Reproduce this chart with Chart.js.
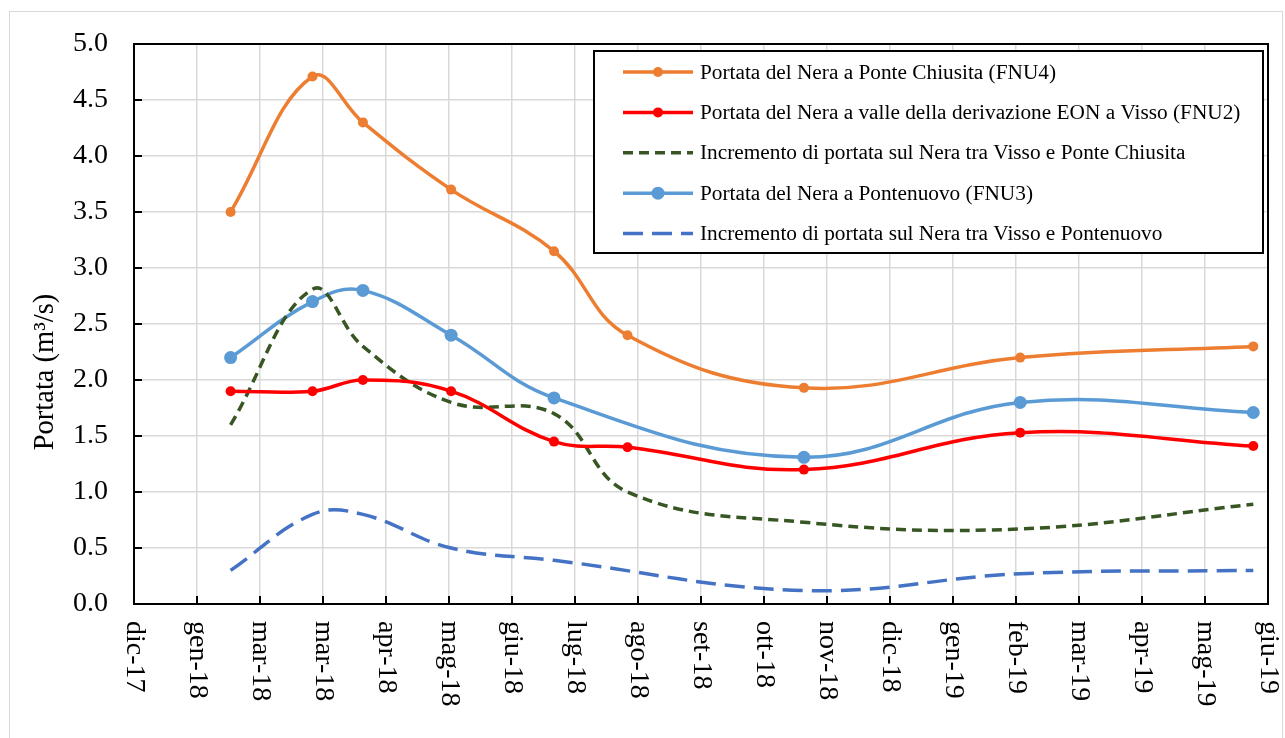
<!DOCTYPE html>
<html lang="it">
<head>
<meta charset="utf-8">
<title>Portata del Nera</title>
<script src="https://cdn.jsdelivr.net/npm/chart.js@4.4.1/dist/chart.umd.min.js"></script>
<style>
  html, body { margin: 0; padding: 0; background: #fff; }
  #contenitore { position: relative; width: 1285px; height: 738px; }
</style>
</head>
<body>
<div id="contenitore">
  <canvas id="grafico-portate" width="1285" height="738"></canvas>
</div>
<script>
// Date delle misure (FNU4, FNU2 e incremento Visso - Ponte Chiusita)
const dateMisure = ['2018-02-15', '2018-03-26', '2018-04-19', '2018-05-31', '2018-07-19',
                    '2018-08-23', '2018-11-15', '2019-02-26', '2019-06-17'];
// Date delle misure a Pontenuovo (FNU3), senza la campagna di agosto
const datePontenuovo = ['2018-02-15', '2018-03-26', '2018-04-19', '2018-05-31', '2018-07-19',
                        '2018-11-15', '2019-02-26', '2019-06-17'];

// Portate in m3/s
const portataPonteChiusita = [3.50, 4.71, 4.30, 3.70, 3.15, 2.40, 1.93, 2.20, 2.30];
const portataValleEON = [1.90, 1.90, 2.00, 1.90, 1.45, 1.40, 1.20, 1.53, 1.41];
const incrementoChiusita = [1.60, 2.81, 2.30, 1.80, 1.70, 1.00, 0.73, 0.67, 0.89];
const portataPontenuovo = [2.20, 2.70, 2.80, 2.40, 1.84, 1.31, 1.80, 1.71];
const incrementoPontenuovo = [0.30, 0.80, 0.80, 0.50, 0.39, 0.12, 0.27, 0.30];

// Etichette dell'asse x (una ogni 30 giorni, come in Excel)
const etichetteAsseX = ['dic-17', 'gen-18', 'mar-18', 'mar-18', 'apr-18', 'mag-18', 'giu-18',
                        'lug-18', 'ago-18', 'set-18', 'ott-18', 'nov-18', 'dic-18', 'gen-19',
                        'feb-19', 'mar-19', 'apr-19', 'mag-19', 'giu-19'];
const inizioAsseX = '2017-12-31';
const passoGiorni = 30;

// Converte una data in numero di giorni
const giorno = (d) => Date.parse(d + 'T00:00:00Z') / 86400000;
const punti = (date, valori) => date.map((d, i) => ({ x: giorno(d), y: valori[i] }));

const primoGiorno = giorno(inizioAsseX);
const ultimoGiorno = primoGiorno + passoGiorni * (etichetteAsseX.length - 1);
const carattere = '"Liberation Serif", "Times New Roman", serif';

// Bordo grigio esterno
const cornice = {
  id: 'cornice',
  beforeDraw(chart) {
    const { ctx } = chart;
    ctx.save();
    ctx.strokeStyle = '#d9d9d9';
    ctx.lineWidth = 1;
    ctx.strokeRect(9.5, 11.5, 1273, 740);
    ctx.restore();
  }
};

// Riquadro nero dell'area del grafico, tacche interne, etichette e legenda
const decorazioni = {
  id: 'decorazioni',
  afterDatasetsDraw(chart) {
    const { ctx, chartArea: a, scales: { x, y } } = chart;
    ctx.save();
    ctx.strokeStyle = '#000';
    ctx.lineWidth = 2;
    ctx.strokeRect(a.left, a.top, a.right - a.left, a.bottom - a.top);
    ctx.beginPath();
    y.ticks.forEach(t => {
      const py = y.getPixelForValue(t.value);
      ctx.moveTo(a.left, py);
      ctx.lineTo(a.left + 8, py);
    });
    x.ticks.forEach(t => {
      const px = x.getPixelForValue(t.value);
      ctx.moveTo(px, a.bottom);
      ctx.lineTo(px, a.bottom - 8);
    });
    ctx.stroke();
    ctx.restore();
  },
  afterDraw(chart) {
    const { ctx, chartArea: a, scales: { x } } = chart;
    ctx.save();

    // Etichette dell'asse x ruotate di 90 gradi in senso orario
    ctx.fillStyle = '#000';
    ctx.font = '28px ' + carattere;
    ctx.textAlign = 'left';
    ctx.textBaseline = 'middle';
    x.ticks.forEach((t, i) => {
      ctx.save();
      ctx.translate(x.getPixelForValue(t.value), a.bottom + 17);
      ctx.rotate(Math.PI / 2);
      ctx.fillText(etichetteAsseX[i], 0, 0);
      ctx.restore();
    });

    // Titolo dell'asse y
    ctx.save();
    ctx.translate(46, 372);
    ctx.rotate(-Math.PI / 2);
    ctx.textAlign = 'center';
    ctx.font = '28.5px ' + carattere;
    ctx.fillText('Portata (m³/s)', 0, 0);
    ctx.restore();

    // Legenda con bordo
    const x0 = a.right - 674, y0 = a.top + 7, w = 669, h = 202;
    ctx.fillStyle = '#fff';
    ctx.fillRect(x0, y0, w, h);
    ctx.strokeStyle = '#000';
    ctx.lineWidth = 2;
    ctx.strokeRect(x0, y0, w, h);
    ctx.font = '21.3px ' + carattere;
    ctx.textAlign = 'left';
    chart.data.datasets.forEach((ds, i) => {
      const yy = y0 + 21 + i * 40.4;
      ctx.strokeStyle = ds.borderColor;
      ctx.lineWidth = ds.borderWidth;
      ctx.setLineDash(ds.borderDash || []);
      ctx.beginPath();
      ctx.moveTo(x0 + 29, yy);
      ctx.lineTo(x0 + 99, yy);
      ctx.stroke();
      ctx.setLineDash([]);
      if (ds.pointRadius > 0) {
        ctx.fillStyle = ds.borderColor;
        ctx.beginPath();
        ctx.arc(x0 + 64, yy, ds.pointRadius, 0, Math.PI * 2);
        ctx.fill();
      }
      ctx.fillStyle = '#000';
      ctx.fillText(ds.label, x0 + 106, yy + 1);
    });
    ctx.restore();
  }
};

const ctx = document.getElementById('grafico-portate').getContext('2d');

const grafico = new Chart(ctx, {
  type: 'line',
  data: {
    datasets: [
      {
        label: 'Portata del Nera a Ponte Chiusita (FNU4)',
        data: punti(dateMisure, portataPonteChiusita),
        borderColor: '#ED7D31',
        backgroundColor: '#ED7D31',
        borderWidth: 3.5,
        pointRadius: 5,
        pointBorderWidth: 0
      },
      {
        label: 'Portata del Nera a valle della derivazione EON a Visso (FNU2)',
        data: punti(dateMisure, portataValleEON),
        borderColor: '#FF0000',
        backgroundColor: '#FF0000',
        borderWidth: 3.5,
        pointRadius: 5,
        pointBorderWidth: 0
      },
      {
        label: 'Incremento di portata sul Nera tra Visso e Ponte Chiusita',
        data: punti(dateMisure, incrementoChiusita),
        borderColor: '#375623',
        borderWidth: 3.5,
        borderDash: [10, 6],
        pointRadius: 0
      },
      {
        label: 'Portata del Nera a Pontenuovo (FNU3)',
        data: punti(datePontenuovo, portataPontenuovo),
        borderColor: '#5B9BD5',
        backgroundColor: '#5B9BD5',
        borderWidth: 3.5,
        pointRadius: 6.5,
        pointBorderWidth: 0
      },
      {
        label: 'Incremento di portata sul Nera tra Visso e Pontenuovo',
        data: punti(datePontenuovo, incrementoPontenuovo),
        borderColor: '#4472C4',
        borderWidth: 3.5,
        borderDash: [20, 9],
        pointRadius: 0
      }
    ]
  },
  options: {
    responsive: false,
    animation: false,
    layout: { padding: { top: 44, right: 17, left: 0, bottom: 0 } },
    elements: { line: { tension: 0.4, fill: false } },
    plugins: {
      legend: { display: false },
      tooltip: { enabled: false }
    },
    scales: {
      x: {
        type: 'linear',
        min: primoGiorno,
        max: ultimoGiorno,
        afterBuildTicks: (scala) => {
          scala.ticks = etichetteAsseX.map((_, i) => ({ value: primoGiorno + i * passoGiorni }));
        },
        afterFit: (scala) => { scala.height = 134; },
        ticks: { display: false },
        grid: { color: '#d9d9d9', lineWidth: 1.5, drawTicks: false },
        border: { display: true, color: '#000', width: 2 }
      },
      y: {
        min: 0,
        max: 5,
        afterFit: (scala) => { scala.width = 134; },
        ticks: {
          stepSize: 0.5,
          padding: 26,
          color: '#000',
          font: { family: carattere, size: 28 },
          callback: (v) => v.toFixed(1)
        },
        grid: { color: '#d9d9d9', lineWidth: 1.5, drawTicks: false },
        border: { display: true, color: '#000', width: 2 }
      }
    }
  },
  plugins: [cornice, decorazioni]
});
</script>
</body>
</html>
